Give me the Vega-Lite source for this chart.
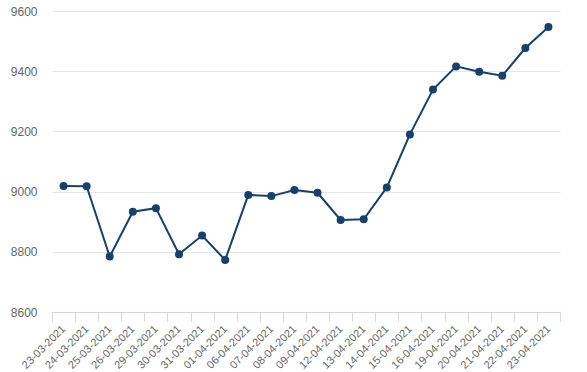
{
  "$schema": "https://vega.github.io/schema/vega-lite/v6.json",
  "autosize": {"type": "none"},
  "width": 508,
  "height": 301,
  "padding": {"left": 52, "top": 11, "right": 27, "bottom": 60},
  "background": "white",
  "config": {"view": {"stroke": null}, "font": "Liberation Sans"},
  "data": {"values": [
    {"date": "23-03-2021", "value": 9019},
    {"date": "24-03-2021", "value": 9018},
    {"date": "25-03-2021", "value": 8784},
    {"date": "26-03-2021", "value": 8933},
    {"date": "29-03-2021", "value": 8945},
    {"date": "30-03-2021", "value": 8792},
    {"date": "31-03-2021", "value": 8854},
    {"date": "01-04-2021", "value": 8773},
    {"date": "06-04-2021", "value": 8989},
    {"date": "07-04-2021", "value": 8985},
    {"date": "08-04-2021", "value": 9005},
    {"date": "09-04-2021", "value": 8996},
    {"date": "12-04-2021", "value": 8906},
    {"date": "13-04-2021", "value": 8908},
    {"date": "14-04-2021", "value": 9014},
    {"date": "15-04-2021", "value": 9190},
    {"date": "16-04-2021", "value": 9339},
    {"date": "19-04-2021", "value": 9416},
    {"date": "20-04-2021", "value": 9398},
    {"date": "21-04-2021", "value": 9385},
    {"date": "22-04-2021", "value": 9477},
    {"date": "23-04-2021", "value": 9547}
  ]},
  "encoding": {
    "x": {
      "field": "date", "type": "ordinal", "sort": null,
      "scale": {"type": "band", "paddingInner": 0, "paddingOuter": 0},
      "axis": {
        "title": null, "labelAngle": -45, "labelAlign": "right", "labelBaseline": "middle",
        "labelFontSize": 11, "labelColor": "#666666", "labelPadding": 6,
        "domainColor": "#ccd6eb", "tickColor": "#ccd6eb", "tickSize": 9, "tickBand": "extent",
        "grid": false
      }
    },
    "y": {
      "field": "value", "type": "quantitative",
      "scale": {"domain": [8600, 9600], "nice": false, "zero": false},
      "axis": {
        "title": null, "values": [8600, 8800, 9000, 9200, 9400, 9600], "format": "d",
        "domain": false, "ticks": false, "labelPadding": 15,
        "labelFontSize": 12, "labelColor": "#666666",
        "gridColor": "#e6e6e6", "gridWidth": 1
      }
    }
  },
  "layer": [
    {"mark": {"type": "line", "color": "#15416c", "strokeWidth": 2}},
    {"mark": {"type": "point", "filled": true, "shape": "circle", "size": 64, "color": "#15416c", "opacity": 1}}
  ]
}
